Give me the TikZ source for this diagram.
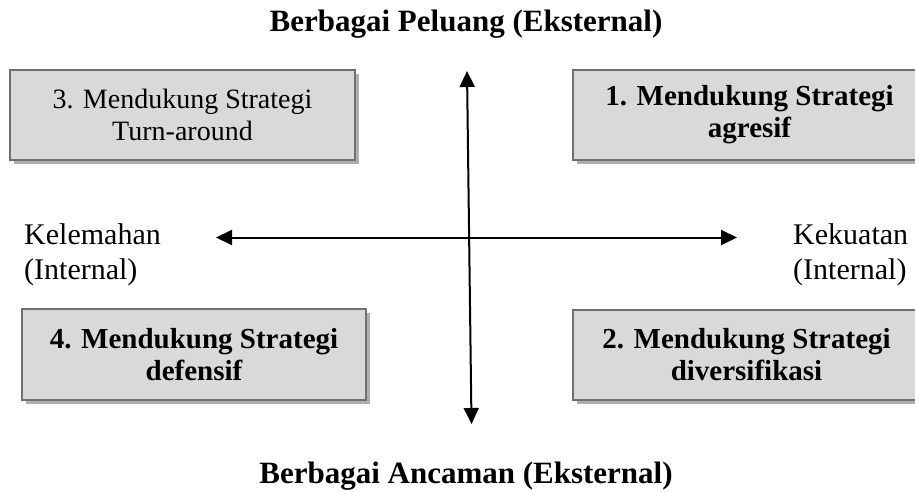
\documentclass[tikz,border=0pt]{standalone}
\usepackage{fontspec}
\setmainfont{Liberation Serif}
\usetikzlibrary{arrows.meta,shadows}
\definecolor{boxfill}{RGB}{217,217,217}
\definecolor{boxline}{RGB}{112,112,112}
\definecolor{boxshadow}{RGB}{175,175,175}
\tikzset{
  quad/.style={draw=boxline, line width=2.4pt, fill=boxfill, align=center,
    inner sep=0pt, font=\fontsize{28}{32}\selectfont,
    drop shadow={shadow xshift=4pt, shadow yshift=-4pt, fill=boxshadow, opacity=1}},
  quadb/.style={quad, font=\fontsize{29}{32}\selectfont\bfseries},
  axis/.style={line width=2pt, {Triangle[length=16pt,width=15pt]}-{Triangle[length=16pt,width=15pt]}},
  side/.style={align=left, inner sep=0pt, anchor=west, font=\fontsize{30}{35}\selectfont},
  heading/.style={inner sep=0pt, anchor=base, font=\fontsize{31}{32}\selectfont\bfseries}
}
\begin{document}
\begin{tikzpicture}[x=1pt,y=-1pt]
\useasboundingbox (0,0) rectangle (915,492);
\clip (0,0) rectangle (915,492);
\node[heading] (top) at (466,32) {Berbagai Peluang (Eksternal)};
\node[heading] (bot) at (466,483) {Berbagai Ancaman (Eksternal)};
\node[quad, minimum width=345pt, minimum height=90pt] (q3) at (182.5,115) {3. Mendukung Strategi\\Turn-around};
\node[quadb, minimum width=353pt, minimum height=90pt] (q1) at (749.5,115) {1. Mendukung Strategi\\agresif};
\node[quadb, minimum width=344pt, minimum height=91pt] (q4) at (194,354.5) {4. Mendukung Strategi\\defensif};
\node[quadb, minimum width=347pt, minimum height=90pt] (q2) at (746.5,355) {2. Mendukung Strategi\\diversifikasi};
\node[side] (weak) at (24,254.5) {Kelemahan\\(Internal)};
\node[side] (strong) at (793,254.5) {Kekuatan\\(Internal)};
\coordinate (vt) at (467,71);
\coordinate (vb) at (471.5,424);
\coordinate (hl) at (216,237.5);
\coordinate (hr) at (737,237.5);
\draw[axis] (vt) -- (vb);
\draw[axis] (hl) -- (hr);
\end{tikzpicture}
\end{document}
